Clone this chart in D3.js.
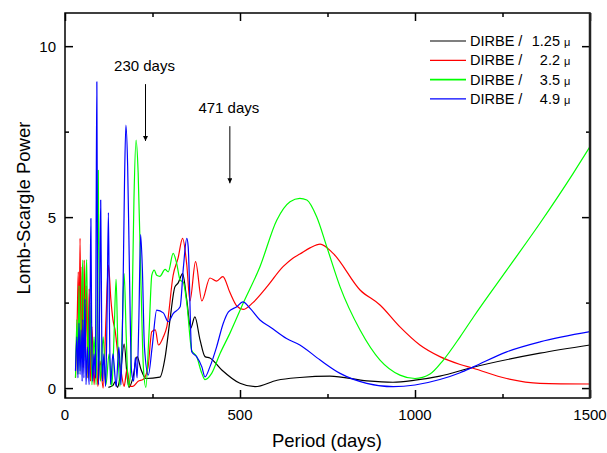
<!DOCTYPE html>
<html>
<head>
<meta charset="utf-8">
<script src="https://cdn.jsdelivr.net/npm/d3@7"></script>
<style>
  body { margin: 0; background: #fff; }
  svg { font-family: Arial, "Liberation Sans", sans-serif; }
</style>
</head>
<body>
<svg id="chart" width="607" height="453"></svg>
<script>
// period (days), Lomb-Scargle power
var black = [
  [124,0.02],[137,0.08],[143,0.18],[150,0.02],[157,0.3],[169,1.29],[178,0.3],[183,0.02],
  [194,0.3],[206,0.92],[217,0.55],[231,0.28],[271,0.32],[286,0.9],[300,2.0],[314,2.96],[323,3.07],
  [336,3.35],[348,2.57],[359,1.75],[371,2.08],[386,1.4],[400,0.92],[414,0.88],[448,0.53],[500,0.14],
  [543,0.04],[606,0.23],[671,0.31],[757,0.35],[863,0.21],[937,0.17],[1000,0.23],[1071,0.35],
  [1166,0.61],[1357,1.02],[1500,1.26]
];
var red = [
  [30,0.3],[35,2.1],[38,3.4],[40,0.8],[43,4.38],[46,1.0],[49,3.55],[52,0.6],[55,3.74],[58,1.2],
  [61,3.0],[65,0.3],[69,2.9],[73,0.2],[77,1.8],[83,0.1],[89,1.0],[94,0.05],[100,0.8],[109,0.0],
  [117,2.0],[124,3.6],[131,2.6],[137,2.0],[143,1.7],[151,1.0],[160,0.5],[169,0.05],[177,0.55],
  [186,0.05],[194,0.05],[209,0.2],[223,0.25],[237,0.6],[248,1.65],[258,1.7],[267,1.26],[281,1.5],[291,1.8],
  [309,3.3],[323,3.8],[336,4.38],[348,3.6],[357,2.55],[373,3.7],[391,2.55],[414,3.22],[433,3.13],
  [451,3.26],[471,2.8],[491,2.4],[509,2.3],[537,2.5],[576,2.95],[623,3.55],[651,3.8],[671,3.92],
  [700,4.1],[729,4.21],[766,3.94],[843,2.87],[900,2.43],[957,1.79],[1014,1.26],[1071,0.92],
  [1129,0.69],[1166,0.58],[1262,0.28],[1357,0.14],[1500,0.12]
];
var green = [
  [30,0.3],[34,2.0],[37,0.4],[40,3.0],[43,0.5],[47,2.6],[51,3.74],[54,0.8],[58,2.5],[62,3.76],
  [66,0.3],[71,2.5],[77,0.1],[83,1.5],[89,0.1],[92,2.5],[95,6.37],[98,2.0],[101,0.2],[109,1.5],
  [117,0.1],[126,1.0],[134,0.05],[140,1.5],[146,3.18],[151,1.2],[157,0.05],[163,1.5],[169,3.35],
  [175,1.5],[181,0.05],[186,0.3],[192,2.5],[197,5.5],[203,7.25],[209,6.3],[216,3.5],[224,0.6],
  [231,0.02],[240,1.6],[248,3.3],[255,3.45],[262,3.3],[271,3.27],[286,3.47],[295,3.4],[309,3.94],
  [319,3.65],[329,3.16],[338,3.1],[348,2.48],[362,1.11],[376,0.92],[391,0.43],[400,0.25],[419,0.43],
  [443,1.01],[471,1.6],[509,2.48],[557,3.55],[605,4.91],[643,5.45],[671,5.55],[691,5.5],[719,5.01],
  [748,4.13],[786,2.96],[843,1.7],[900,0.82],[957,0.38],[1000,0.28],[1043,0.41],[1081,0.82],
  [1129,1.5],[1167,2.08],[1262,3.45],[1357,4.82],[1452,6.28],[1500,7.06]
];
var blue = [
  [30,0.5],[34,1.5],[37,0.3],[40,1.9],[43,0.4],[46,1.7],[49,0.2],[51,2.0],[54,0.3],[57,2.6],
  [60,0.1],[64,1.2],[69,0.1],[72,3.0],[74,4.96],[76,2.0],[79,0.2],[83,1.0],[87,0.3],[89,5.0],
  [91,8.96],[93,3.0],[96,0.1],[99,2.5],[102,5.5],[105,1.5],[107,0.2],[111,1.0],[116,0.05],
  [120,2.0],[124,5.13],[127,2.0],[130,0.1],[137,1.0],[146,0.05],[154,1.2],[160,0.1],[166,3.0],
  [170,6.0],[174,7.69],[179,6.5],[184,3.5],[190,0.5],[196,0.2],[201,0.9],[206,0.3],[211,2.0],
  [216,4.49],[221,3.5],[227,1.2],[238,0.38],[249,1.2],[262,2.28],[281,2.2],[295,1.94],[309,2.18],
  [329,2.38],[338,3.5],[348,4.38],[352,4.13],[362,1.06],[376,0.92],[391,0.62],[400,0.33],[414,0.62],
  [433,1.2],[452,1.89],[467,2.23],[491,2.38],[508,2.52],[529,2.33],[557,1.99],[586,1.79],[633,1.45],
  [671,1.26],[729,0.82],[786,0.43],[862,0.14],[938,0.04],[1000,0.09],[1071,0.25],[1129,0.45],
  [1167,0.62],[1262,1.06],[1357,1.35],[1500,1.65]
];

var seriesNames = ["1.25", "2.2", "3.5", "4.9"];
var seriesColors = ["#000000", "#ff0000", "#00ff00", "#0000ff"];
var xTicks = [0, 500, 1000, 1500];
var xMinor = [250, 750, 1250];
var yTicks = [0, 5, 10];
var yMinor = [2.5, 7.5];
// arrows: [period, text, tip power, tail power]
var marks = [[230, "230 days", 7.23, 8.89], [471, "471 days", 5.99, 7.66]];

var svg = d3.select("#chart");
var pLeft = 65, pRight = 590, pTop = 13, pBottom = 398;

var x = d3.scaleLinear().domain([0, 1500]).range([pLeft, pRight]);
var y = d3.scaleLinear().domain([-0.29, 10.97]).range([pBottom, pTop]);

svg.append("clipPath").attr("id", "clip")
  .append("rect").attr("x", pLeft).attr("y", pTop)
  .attr("width", pRight - pLeft).attr("height", pBottom - pTop);

var line = d3.line()
  .x(function(d){ return x(d[0]); })
  .y(function(d){ return y(d[1]); })
  .curve(d3.curveMonotoneX);

var all = [black, red, green, blue];
svg.append("g").attr("clip-path", "url(#clip)")
  .selectAll("path").data(all).enter().append("path")
  .attr("d", line)
  .attr("fill", "none")
  .attr("stroke", function(d, i){ return seriesColors[i]; })
  .attr("stroke-width", 1.2)
  .attr("stroke-linejoin", "round");

// axes, ticks inward
function axis(gen, tr, vals, size) {
  svg.append("g").attr("transform", tr)
    .call(gen.tickValues(vals).tickSize(size).tickFormat(""))
    .call(function(g){ g.select(".domain").remove(); g.selectAll("line").attr("stroke", "#000").attr("stroke-width", 1.5); });
}
axis(d3.axisTop(x), "translate(0," + pBottom + ")", xTicks, 8);
axis(d3.axisTop(x), "translate(0," + pBottom + ")", xMinor, 4);
axis(d3.axisBottom(x), "translate(0," + pTop + ")", xTicks, 8);
axis(d3.axisBottom(x), "translate(0," + pTop + ")", xMinor, 4);
axis(d3.axisRight(y), "translate(" + pLeft + ",0)", yTicks, 8);
axis(d3.axisRight(y), "translate(" + pLeft + ",0)", yMinor, 4);
axis(d3.axisLeft(y), "translate(" + pRight + ",0)", yTicks, 8);
axis(d3.axisLeft(y), "translate(" + pRight + ",0)", yMinor, 4);

svg.append("rect").attr("x", pLeft).attr("y", pTop)
  .attr("width", pRight - pLeft).attr("height", pBottom - pTop)
  .attr("fill", "none").attr("stroke", "#000").attr("stroke-width", 1.5);
svg.append("line").attr("x1", pRight).attr("x2", pRight).attr("y1", pTop).attr("y2", pBottom)
  .attr("stroke", "#222").attr("stroke-width", 2.5);

svg.selectAll(".xl").data(xTicks).enter().append("text")
  .attr("x", function(d){ return x(d); }).attr("y", 420)
  .attr("text-anchor", "middle").attr("font-size", 15).text(function(d){ return d; });
svg.selectAll(".yl").data(yTicks).enter().append("text")
  .attr("x", 56).attr("y", function(d){ return y(d) + 5.5; })
  .attr("text-anchor", "end").attr("font-size", 15).text(function(d){ return d; });

svg.append("text").attr("x", 327).attr("y", 447).attr("text-anchor", "middle")
  .attr("font-size", 18.5).text("Period (days)");
svg.append("text").attr("transform", "translate(30,208) rotate(-90)")
  .attr("text-anchor", "middle").attr("font-size", 18.5).text("Lomb-Scargle Power");

// arrow annotations
svg.append("defs").append("marker").attr("id", "arr")
  .attr("viewBox", "0 0 10 10").attr("refX", 10).attr("refY", 5)
  .attr("markerWidth", 9).attr("markerHeight", 5).attr("markerUnits", "userSpaceOnUse")
  .attr("orient", "auto")
  .append("path").attr("d", "M0,0 L10,5 L0,10 Z").attr("fill", "#000");
marks.forEach(function(m){
  svg.append("line").attr("x1", x(m[0])).attr("x2", x(m[0]))
    .attr("y1", y(m[3])).attr("y2", y(m[2]))
    .attr("stroke", "#000").attr("stroke-width", 1).attr("marker-end", "url(#arr)");
  svg.append("text").attr("x", x(m[0]) - 1).attr("y", y(m[3]) - 13)
    .attr("text-anchor", "middle").attr("font-size", 15).text(m[1]);
});

// legend
var lg = svg.append("g");
seriesNames.forEach(function(n, i){
  var ly = 41 + i * 19.3;
  lg.append("line").attr("x1", 430).attr("x2", 466).attr("y1", ly).attr("y2", ly)
    .attr("stroke", seriesColors[i]).attr("stroke-width", i == 2 ? 1.8 : 1.2);
  lg.append("text").attr("x", 470).attr("y", ly + 5).attr("font-size", 14.5).text("DIRBE /");
  lg.append("text").attr("x", 560).attr("y", ly + 5).attr("font-size", 14.5)
    .attr("text-anchor", "end").text(n);
  lg.append("text").attr("x", 564).attr("y", ly + 5).attr("font-size", 11).text("\u03bc");
});
</script>
</body>
</html>
